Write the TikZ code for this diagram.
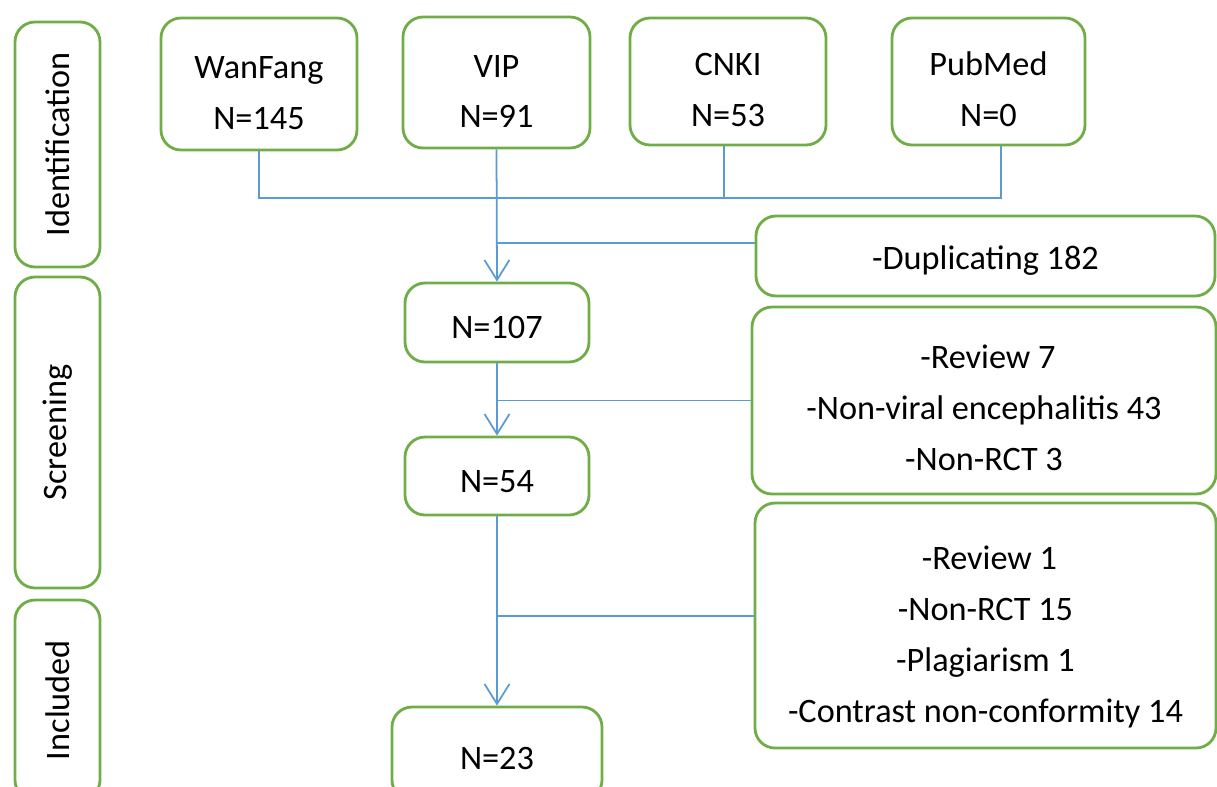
\documentclass[tikz,border=0pt]{standalone}
\usepackage{fontspec}
\setmainfont{Carlito}
\usetikzlibrary{arrows.meta,positioning}
\definecolor{boxgreen}{RGB}{112,173,71}
\definecolor{lineblue}{RGB}{91,155,213}
\newcommand\toprow[1][0.8cm]{\rule{0pt}{#1}}

\begin{document}
\begin{tikzpicture}[
		frame/.style={draw=boxgreen, line width=1.6pt, rounded corners=0.4cm, align=center, inner sep=0pt, font=\fontsize{19.5pt}{29pt}\selectfont},
		box/.style={frame, execute at begin node={\rule{0pt}{0.66cm}}},
		stage/.style={frame, rotate=90, minimum height=1.7cm},
		link/.style={draw=lineblue, line width=1pt},
		flow/.style={link, -{Straight Barb[length=0.4cm,width=0.5cm]}}]
		\clip (0,0) rectangle (24.34,-15.72);
		% stages on the left
		\draw (1.15,-2.89) node [stage, minimum width=4.9cm] (ident) {Identification};
		\draw (1.15,-8.65) node [stage, minimum width=6.22cm] (screen) {Screening};
		\draw (1.15,-14.0) node [stage, minimum width=4.0cm] (incl) {Included};
		% databases
		\draw (5.18,-1.68) node [frame, minimum width=3.92cm, minimum height=2.64cm] (wan) {\toprow WanFang\\N=145};
		\draw (9.93,-1.65) node [frame, minimum width=3.74cm, minimum height=2.62cm] (vip) {\toprow VIP\\N=91};
		\draw (14.56,-1.63) node [frame, minimum width=3.92cm, minimum height=2.54cm] (cnki) {\toprow CNKI\\N=53};
		\draw (19.77,-1.63) node [frame, minimum width=3.86cm, minimum height=2.54cm] (pub) {\toprow PubMed\\N=0};
		% records
		\draw (9.94,-6.45) node [box, minimum width=3.68cm, minimum height=1.58cm] (n107) {N=107};
		\draw (9.94,-9.52) node [box, minimum width=3.68cm, minimum height=1.56cm] (n54) {N=54};
		\draw (9.94,-15.07) node [box, minimum width=4.2cm, minimum height=1.86cm] (n23) {N=23};
		% exclusions
		\draw (19.71,-5.12) node [box, minimum width=9.18cm, minimum height=1.6cm] (dup) {-Duplicating 182};
		\draw (19.68,-8.01) node [frame, minimum width=9.28cm, minimum height=3.74cm] (rev) {\toprow[0.76cm] -Review 7\\-Non-viral encephalitis 43\\-Non-RCT 3};
		\draw (19.71,-12.51) node [frame, minimum width=9.22cm, minimum height=4.9cm] (excl) {\toprow[0.92cm] -Review 1\\-Non-RCT 15\\-Plagiarism 1\\-Contrast non-conformity 14};
		% connectors
		\coordinate (merge) at (9.94,-3.96);
		\coordinate (cnkidrop) at ([xshift=-0.08cm]cnki.south);
		\coordinate (pubdrop) at ([xshift=0.25cm]pub.south);
		\coordinate (cut1) at (9.94,-4.86);
		\coordinate (cut3) at (9.94,-12.32);
		\draw[link] (wan.south) -- (wan.south |- merge) -- (pubdrop |- merge) -- (pubdrop);
		\draw[link] (cnkidrop) -- (cnkidrop |- merge);
		\draw[flow] (vip.south) -- (n107.north);
		\draw[link] (cut1) -- (cut1 -| dup.west);
		\draw[flow] (n107.south) -- (n54.north);
		\draw[link] (n107.south |- rev.west) -- (rev.west);
		\draw[flow] (n54.south) -- (n23.north);
		\draw[link] (cut3) -- (cut3 -| excl.west);
	\end{tikzpicture}
\end{document}
